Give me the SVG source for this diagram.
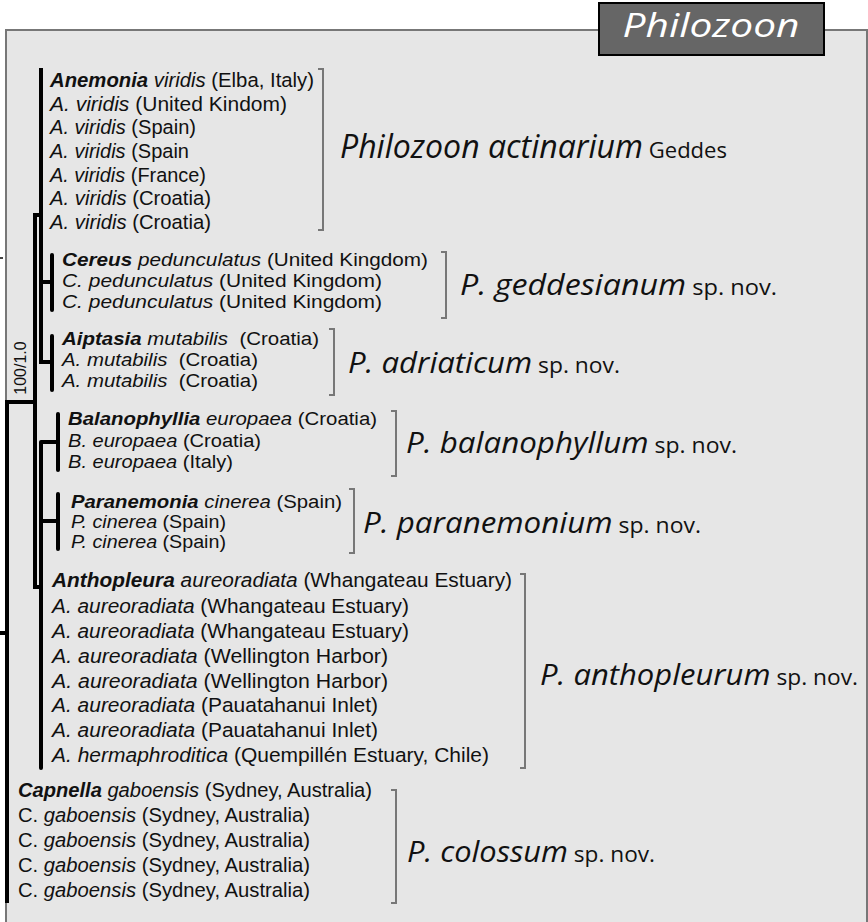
<svg xmlns="http://www.w3.org/2000/svg" width="868" height="922" viewBox="0 0 868 922">
<style>
.t{font-family:"Liberation Sans",Arial,sans-serif;fill:#111;}
.l21{font-size:20.5px;}
.l18{font-size:18px;}
.i{font-style:italic;}
.bi{font-style:italic;font-weight:bold;}
.big{font-family:"Open Sans","Noto Sans","Liberation Sans",sans-serif;fill:#111;font-size:30px;}
.sm{font-style:normal;font-size:22px;}
.br{fill:none;stroke:#777;stroke-width:2;}
.tr{stroke:#000;stroke-width:4;fill:none;}
.cl{stroke:#000;stroke-width:4;stroke-linecap:round;fill:none;}
.pre{white-space:pre;}
</style>
<g id="panel">
<rect x="6" y="30" width="861" height="905" fill="#e6e6e6" stroke="#777" stroke-width="2"/>
</g>
<g id="title">
<rect x="599" y="3" width="225" height="52" fill="#666" stroke="#000" stroke-width="2"/>
<text x="711" y="37" text-anchor="middle" font-family="'Open Sans',sans-serif" font-style="italic" font-size="33" fill="#fff" textLength="177" lengthAdjust="spacingAndGlyphs">Philozoon</text>
</g>
<g id="connectors">
<line class="tr" x1="41" y1="68" x2="41" y2="364"/>
<line class="cl" x1="41" y1="442" x2="41" y2="768"/>
<line class="tr" x1="35" y1="213" x2="35" y2="589"/>
<line class="tr" x1="35" y1="215" x2="43" y2="215"/>
<line class="tr" x1="35" y1="587" x2="43" y2="587"/>
<line class="tr" x1="5" y1="402" x2="37" y2="402"/>
<line class="tr" x1="7" y1="400" x2="7" y2="903"/>
<line class="tr" x1="0" y1="633" x2="7" y2="633"/>
<line x1="0" y1="258" x2="3" y2="258" stroke="#444" stroke-width="2"/>
<line class="tr" x1="41" y1="282" x2="52" y2="282"/>
<line class="cl" x1="52" y1="255" x2="52" y2="310"/>
<line class="tr" x1="41" y1="362" x2="52" y2="362"/>
<line class="cl" x1="52" y1="336" x2="52" y2="390"/>
<line class="tr" x1="41" y1="442" x2="58" y2="442"/>
<line class="cl" x1="58" y1="414" x2="58" y2="470"/>
<line class="tr" x1="41" y1="521" x2="58" y2="521"/>
<line class="cl" x1="58" y1="494" x2="58" y2="549"/>
</g>
<text class="t" x="26" y="368" font-size="16" text-anchor="middle" transform="rotate(-90 26 368)">100/1.0</text>
<g id="anemonia">
<text class="t l21" x="50" y="87" textLength="264" lengthAdjust="spacingAndGlyphs"><tspan class="bi">Anemonia</tspan><tspan class="i"> viridis</tspan> (Elba, Italy)</text>
<text class="t l21" x="50" y="111" textLength="237" lengthAdjust="spacingAndGlyphs"><tspan class="i">A. viridis</tspan> (United Kindom)</text>
<text class="t l21" x="50" y="134" textLength="146" lengthAdjust="spacingAndGlyphs"><tspan class="i">A. viridis</tspan> (Spain)</text>
<text class="t l21" x="50" y="158" textLength="139" lengthAdjust="spacingAndGlyphs"><tspan class="i">A. viridis</tspan> (Spain</text>
<text class="t l21" x="50" y="182" textLength="156" lengthAdjust="spacingAndGlyphs"><tspan class="i">A. viridis</tspan> (France)</text>
<text class="t l21" x="50" y="205" textLength="161" lengthAdjust="spacingAndGlyphs"><tspan class="i">A. viridis</tspan> (Croatia)</text>
<text class="t l21" x="50" y="229" textLength="161" lengthAdjust="spacingAndGlyphs"><tspan class="i">A. viridis</tspan> (Croatia)</text>
<path class="br" d="M318 69H323V230H318"/>
<text class="big" x="340" y="158" textLength="387" lengthAdjust="spacingAndGlyphs"><tspan class="i" font-size="32">Philozoon actinarium</tspan><tspan class="sm"> Geddes</tspan></text>
</g>
<g id="cereus">
<text class="t l18" x="62" y="266" textLength="366" lengthAdjust="spacingAndGlyphs"><tspan class="bi">Cereus</tspan><tspan class="i"> pedunculatus</tspan> (United Kingdom)</text>
<text class="t l18" x="62" y="287" textLength="320" lengthAdjust="spacingAndGlyphs"><tspan class="i">C. pedunculatus</tspan> (United Kingdom)</text>
<text class="t l18" x="62" y="308" textLength="320" lengthAdjust="spacingAndGlyphs"><tspan class="i">C. pedunculatus</tspan> (United Kingdom)</text>
<path class="br" d="M441 252H446V318H441"/>
<text class="big" x="460" y="295" textLength="317" lengthAdjust="spacingAndGlyphs"><tspan class="i">P. geddesianum</tspan><tspan class="sm"> sp. nov.</tspan></text>
</g>
<g id="aiptasia">
<text class="t l18 pre" x="62" y="345" textLength="257" lengthAdjust="spacingAndGlyphs"><tspan class="bi">Aiptasia</tspan><tspan class="i"> mutabilis</tspan>  (Croatia)</text>
<text class="t l18 pre" x="62" y="366" textLength="196" lengthAdjust="spacingAndGlyphs"><tspan class="i">A. mutabilis</tspan>  (Croatia)</text>
<text class="t l18 pre" x="62" y="387" textLength="196" lengthAdjust="spacingAndGlyphs"><tspan class="i">A. mutabilis</tspan>  (Croatia)</text>
<path class="br" d="M329 329H334V395H329"/>
<text class="big" x="348" y="373" textLength="272" lengthAdjust="spacingAndGlyphs"><tspan class="i">P. adriaticum</tspan><tspan class="sm"> sp. nov.</tspan></text>
</g>
<g id="balanophyllia">
<text class="t l18" x="68" y="425" textLength="309" lengthAdjust="spacingAndGlyphs"><tspan class="bi">Balanophyllia</tspan><tspan class="i"> europaea</tspan> (Croatia)</text>
<text class="t l18" x="68" y="447" textLength="193" lengthAdjust="spacingAndGlyphs"><tspan class="i">B. europaea</tspan> (Croatia)</text>
<text class="t l18" x="68" y="468" textLength="165" lengthAdjust="spacingAndGlyphs"><tspan class="i">B. europaea</tspan> (Italy)</text>
<path class="br" d="M391 411H396V476H391"/>
<text class="big" x="406" y="453" textLength="331" lengthAdjust="spacingAndGlyphs"><tspan class="i">P. balanophyllum</tspan><tspan class="sm"> sp. nov.</tspan></text>
</g>
<g id="paranemonia">
<text class="t l18" x="71" y="508" textLength="271" lengthAdjust="spacingAndGlyphs"><tspan class="bi">Paranemonia</tspan><tspan class="i"> cinerea</tspan> (Spain)</text>
<text class="t l18" x="71" y="528" textLength="155" lengthAdjust="spacingAndGlyphs"><tspan class="i">P. cinerea</tspan> (Spain)</text>
<text class="t l18" x="71" y="548" textLength="155" lengthAdjust="spacingAndGlyphs"><tspan class="i">P. cinerea</tspan> (Spain)</text>
<path class="br" d="M349 489H354V553H349"/>
<text class="big" x="363" y="533" textLength="338" lengthAdjust="spacingAndGlyphs"><tspan class="i">P. paranemonium</tspan><tspan class="sm"> sp. nov.</tspan></text>
</g>
<g id="anthopleura">
<text class="t l21" x="52" y="587" textLength="460" lengthAdjust="spacingAndGlyphs"><tspan class="bi">Anthopleura</tspan><tspan class="i"> aureoradiata</tspan> (Whangateau Estuary)</text>
<text class="t l21" x="52" y="613" textLength="357" lengthAdjust="spacingAndGlyphs"><tspan class="i">A. aureoradiata</tspan> (Whangateau Estuary)</text>
<text class="t l21" x="52" y="638" textLength="357" lengthAdjust="spacingAndGlyphs"><tspan class="i">A. aureoradiata</tspan> (Whangateau Estuary)</text>
<text class="t l21" x="52" y="663" textLength="336" lengthAdjust="spacingAndGlyphs"><tspan class="i">A. aureoradiata</tspan> (Wellington Harbor)</text>
<text class="t l21" x="52" y="688" textLength="336" lengthAdjust="spacingAndGlyphs"><tspan class="i">A. aureoradiata</tspan> (Wellington Harbor)</text>
<text class="t l21" x="52" y="712" textLength="326" lengthAdjust="spacingAndGlyphs"><tspan class="i">A. aureoradiata</tspan> (Pauatahanui Inlet)</text>
<text class="t l21" x="52" y="737" textLength="326" lengthAdjust="spacingAndGlyphs"><tspan class="i">A. aureoradiata</tspan> (Pauatahanui Inlet)</text>
<text class="t l21" x="52" y="762" textLength="437" lengthAdjust="spacingAndGlyphs"><tspan class="i">A. hermaphroditica</tspan> (Quempillén Estuary, Chile)</text>
<path class="br" d="M520 574H525V768H520"/>
<text class="big" x="540" y="685" textLength="318" lengthAdjust="spacingAndGlyphs"><tspan class="i">P. anthopleurum</tspan><tspan class="sm"> sp. nov.</tspan></text>
</g>
<g id="capnella">
<text class="t l21" x="18" y="797" textLength="354" lengthAdjust="spacingAndGlyphs"><tspan class="bi">Capnella</tspan><tspan class="i"> gaboensis</tspan> (Sydney, Australia)</text>
<text class="t l21" x="18" y="822" textLength="292" lengthAdjust="spacingAndGlyphs">C.<tspan class="i"> gaboensis</tspan> (Sydney, Australia)</text>
<text class="t l21" x="18" y="847" textLength="292" lengthAdjust="spacingAndGlyphs">C.<tspan class="i"> gaboensis</tspan> (Sydney, Australia)</text>
<text class="t l21" x="18" y="872" textLength="292" lengthAdjust="spacingAndGlyphs">C.<tspan class="i"> gaboensis</tspan> (Sydney, Australia)</text>
<text class="t l21" x="18" y="897" textLength="292" lengthAdjust="spacingAndGlyphs">C.<tspan class="i"> gaboensis</tspan> (Sydney, Australia)</text>
<path class="br" d="M391 790H396V903H391"/>
<text class="big" x="407" y="862" textLength="248" lengthAdjust="spacingAndGlyphs"><tspan class="i">P. colossum</tspan><tspan class="sm"> sp. nov.</tspan></text>
</g>
</svg>
